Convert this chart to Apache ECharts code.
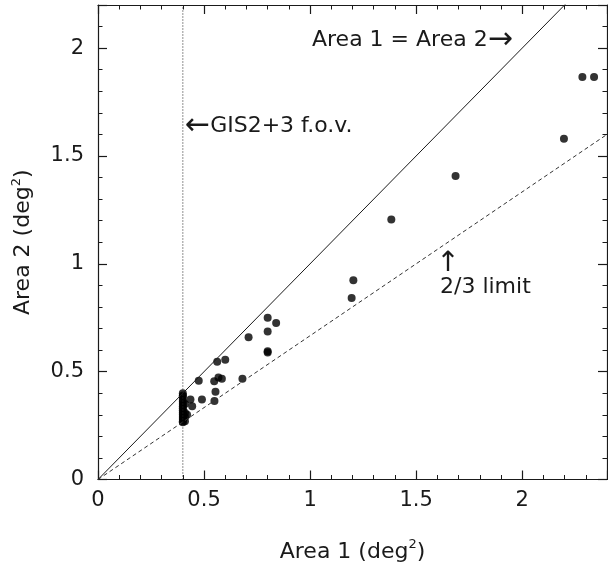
<!DOCTYPE html>
<html><head><meta charset="utf-8">
<script src="https://cdn.jsdelivr.net/npm/echarts@6/dist/echarts.min.js"></script>
<style>html,body{margin:0;padding:0;background:#fff}#c{width:608px;height:566px}</style>
</head><body><div id="c"></div>
<script>
const area1 = [0.40,0.40,0.40,0.40,0.40,0.40,0.40,0.40,0.40,0.40,0.40,0.40,0.40,0.40,0.40,0.41,0.41,0.41,0.41,0.42,
  0.436,0.444,0.49,0.475,0.548,0.568,0.584,0.554,0.549,0.562,0.600,0.681,0.710,0.80,0.84,0.80,0.80,0.80,
  1.196,1.204,1.383,1.686,2.197,2.284,2.339];
const area2 = [0.40,0.39,0.385,0.37,0.36,0.35,0.34,0.33,0.32,0.31,0.30,0.29,0.28,0.27,0.265,0.35,0.31,0.29,0.27,0.30,
  0.371,0.340,0.371,0.458,0.456,0.473,0.467,0.407,0.364,0.546,0.555,0.467,0.660,0.75,0.726,0.686,0.589,0.595,
  0.841,0.924,1.205,1.407,1.580,1.866,1.866];
const equalLine = [[0,0],[2.4,2.4]];
const limitLine = [[0,0],[2.4,1.6]];
const fovLine = [[0.4,0],[0.4,2.2]];
const xTicks = ['0','0.5','1','1.5','2'];
const yTicks = ['0','0.5','1','1.5','2'];

const FONT = '"DejaVu Sans", sans-serif';
const C = '#1a1a1a';
function fmtX(v){ const s=String(Math.round(v*10)/10); return xTicks.indexOf(s)>=0 && Math.abs(v*2-Math.round(v*2))<1e-6 ? s : ''; }
function fmtY(v){ const s=String(Math.round(v*10)/10); return yTicks.indexOf(s)>=0 && Math.abs(v*2-Math.round(v*2))<1e-6 ? s : ''; }
const baseAxis = {
  type:'value', min:0, interval:0.5, splitNumber:5,
  axisLine:{show:true, onZero:false, lineStyle:{color:C,width:1.2}},
  axisTick:{show:true, inside:true, length:9, lineStyle:{color:C,width:1.2}},
  minorTick:{show:true, splitNumber:5, length:4.5, lineStyle:{color:C,width:1}},
  splitLine:{show:false}, minorSplitLine:{show:false}
};
const nameRich = {a:{fontFamily:FONT,fontSize:22,color:C}, s:{fontFamily:FONT,fontSize:13,color:C,verticalAlign:'top',padding:[0,0,14,0]}};
const chart = echarts.init(document.getElementById('c'));
chart.setOption({
  animation:false,
  backgroundColor:'#fff',
  grid:{left:98, right:1, top:5, bottom:86.5, containLabel:false, outerBoundsMode:'none'},
  xAxis:[
    Object.assign({}, baseAxis, {max:2.4, position:'bottom',
      axisLabel:{show:true, formatter:fmtX, color:C, fontFamily:FONT, fontSize:21, margin:11},
      name:'{a|Area 1 (deg}{s|2}{a|)}', nameLocation:'middle', nameGap:59,
      nameTextStyle:{rich:nameRich}}),
    Object.assign({}, baseAxis, {max:2.4, position:'top', axisLabel:{show:false}})
  ],
  yAxis:[
    Object.assign({}, baseAxis, {max:2.2, position:'left',
      axisLabel:{show:true, formatter:fmtY, color:C, fontFamily:FONT, fontSize:21, margin:14},
      name:'{a|Area 2 (deg}{s|2}{a|)}', nameLocation:'middle', nameGap:61, nameRotate:90,
      nameTextStyle:{rich:nameRich}}),
    Object.assign({}, baseAxis, {max:2.2, position:'right', axisLabel:{show:false}})
  ],
  series:[
    {type:'line', data:equalLine, showSymbol:false, symbol:'none', clip:true, lineStyle:{color:C,width:1}},
    {type:'line', data:limitLine, showSymbol:false, symbol:'none', clip:true, lineStyle:{color:'#333',width:1,type:[4,3]}},
    {type:'line', data:fovLine, showSymbol:false, symbol:'none', clip:true, lineStyle:{color:'#222',width:1,type:[1,2]}},
    {type:'scatter', data:area1.map((x,i)=>[x,area2[i]]), symbol:'circle', symbolSize:8, itemStyle:{color:'#000'}, clip:true}
  ],
  graphic:[
    {type:'text', x:312, y:40, style:{text:'Area 1 = Area 2{ar|\u2192}', fontFamily:FONT, fontSize:22, fill:C, verticalAlign:'middle',
      rich:{ar:{fontFamily:FONT, fontSize:30, fill:C}}}},
    {type:'text', x:185, y:126, style:{text:'{ar|\u2190}GIS2+3 f.o.v.', fontFamily:FONT, fontSize:22, fill:C, verticalAlign:'middle',
      rich:{ar:{fontFamily:FONT, fontSize:30, fill:C}}}},
    {type:'text', x:448, y:264, style:{text:'\u2191', fontFamily:FONT, fontSize:28, fill:C, align:'center', verticalAlign:'middle'}},
    {type:'text', x:440, y:287, style:{text:'2/3 limit', fontFamily:FONT, fontSize:22, fill:C, verticalAlign:'middle'}}
  ]
});
</script></body></html>
